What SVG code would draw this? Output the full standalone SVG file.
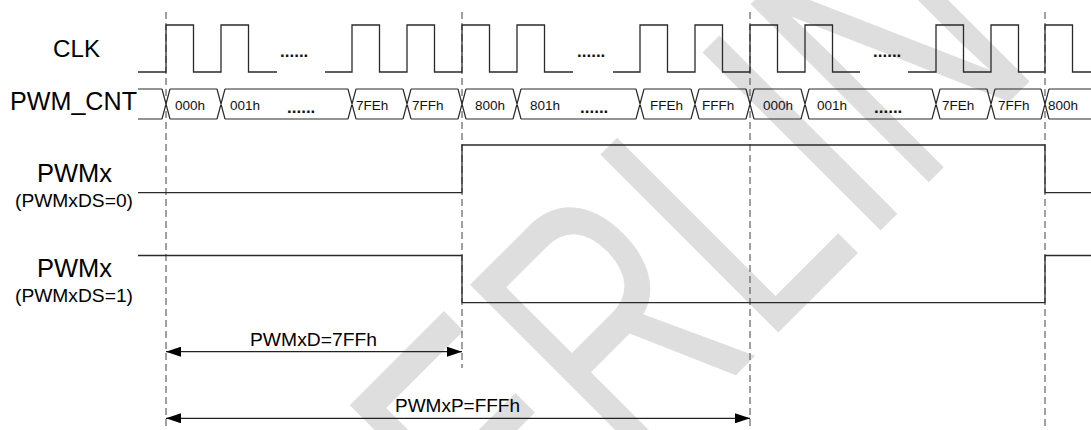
<svg xmlns="http://www.w3.org/2000/svg" width="1091" height="430" viewBox="0 0 1091 430">
<defs>
<style>
.wave{fill:none;stroke:#2a2a2a;stroke-width:1.3}
.bus{fill:none;stroke:#2a2a2a;stroke-width:1.2}
.dash{stroke:#555;stroke-width:1.1;stroke-dasharray:7 4;fill:none}
.lbl{font-family:"Liberation Sans",Arial,sans-serif;fill:#000}
.val{font-family:"Liberation Sans",Arial,sans-serif;font-size:13.5px;fill:#111}
.dots{font-family:"Liberation Sans",Arial,sans-serif;font-size:17px;font-weight:bold;fill:#111}
.dim{fill:none;stroke:#222;stroke-width:1.3;marker-start:url(#ah);marker-end:url(#ah)}
.wm{font-family:"Liberation Sans",Arial,sans-serif;fill:#dedede}
</style>
<marker id="ah" viewBox="0 0 15 10" refX="15" refY="5" markerWidth="15" markerHeight="10" markerUnits="userSpaceOnUse" orient="auto-start-reverse">
<path d="M0,0 L15,5 L0,10 Z" fill="#000"/>
</marker>
</defs>
<rect width="1091" height="430" fill="#fff"/>
<g id="watermark" transform="translate(513,598) rotate(-45) scale(0.697,1)">
<text class="wm" x="0" y="0" font-size="366">ERLIN</text>
</g>
<g id="guides">
<line class="dash" x1="166" y1="12" x2="166" y2="430"/>
<line class="dash" x1="462" y1="12" x2="462" y2="368"/>
<line class="dash" x1="750" y1="12" x2="750" y2="430"/>
<line class="dash" x1="1045" y1="12" x2="1045" y2="430"/>
</g>
<g id="clk">
<text class="lbl" x="53" y="57" font-size="24" textLength="47" lengthAdjust="spacingAndGlyphs">CLK</text>
<path class="wave" d="M138,72 H166 V25 H193.5 V72 H221 V25 H248.5 V72 H277 M325,72 H352 V25 H379.5 V72 H407 V25 H434.5 V72 H462 V25 H489.5 V72 H517 V25 H544.5 V72 H573 M613,72 H640 V25 H667.5 V72 H695 V25 H722.5 V72 H750 V25 H777.5 V72 H805 V25 H832.5 V72 H860 M908,72 H936 V25 H963.5 V72 H991 V25 H1018.5 V72 H1045 V25 H1072.5 V72 H1091"/>
<text class="dots" x="280" y="57">......</text>
<text class="dots" x="577" y="57">......</text>
<text class="dots" x="873" y="57">......</text>
</g>
<g id="pwm_cnt">
<text class="lbl" x="10" y="110" font-size="26" textLength="127" lengthAdjust="spacingAndGlyphs">PWM_CNT</text>
<path class="bus" d="M138,89 H162 M170,89 H217 M225,89 H348 M356,89 H403 M411,89 H458 M466,89 H513 M521,89 H636 M644,89 H691 M699,89 H746 M754,89 H801 M809,89 H932 M940,89 H987 M995,89 H1041 M1049,89 H1091 M138,119 H162 M170,119 H217 M225,119 H348 M356,119 H403 M411,119 H458 M466,119 H513 M521,119 H636 M644,119 H691 M699,119 H746 M754,119 H801 M809,119 H932 M940,119 H987 M995,119 H1041 M1049,119 H1091"/>
<path class="bus" d="M162,89 L170,119 M162,119 L170,89 M217,89 L225,119 M217,119 L225,89 M348,89 L356,119 M348,119 L356,89 M403,89 L411,119 M403,119 L411,89 M458,89 L466,119 M458,119 L466,89 M513,89 L521,119 M513,119 L521,89 M636,89 L644,119 M636,119 L644,89 M691,89 L699,119 M691,119 L699,89 M746,89 L754,119 M746,119 L754,89 M801,89 L809,119 M801,119 L809,89 M932,89 L940,119 M932,119 L940,89 M987,89 L995,119 M987,119 L995,89 M1041,89 L1049,119 M1041,119 L1049,89"/>
<text class="val" x="175" y="109.5">000h</text>
<text class="val" x="230" y="109.5">001h</text>
<text class="val" x="356" y="109.5">7FEh</text>
<text class="val" x="412" y="109.5">7FFh</text>
<text class="val" x="475" y="109.5">800h</text>
<text class="val" x="530" y="109.5">801h</text>
<text class="val" x="650" y="109.5">FFEh</text>
<text class="val" x="702" y="109.5">FFFh</text>
<text class="val" x="763" y="109.5">000h</text>
<text class="val" x="817" y="109.5">001h</text>
<text class="val" x="942" y="109.5">7FEh</text>
<text class="val" x="998" y="109.5">7FFh</text>
<text class="val" x="1048" y="109.5">800h</text>
<text class="dots" x="287" y="112.5">......</text>
<text class="dots" x="580" y="112.5">......</text>
<text class="dots" x="874" y="112.5">......</text>
</g>
<g id="pwmx_ds0">
<text class="lbl" x="37" y="182" font-size="25" textLength="75" lengthAdjust="spacingAndGlyphs">PWMx</text>
<text class="lbl" x="15" y="207" font-size="19" textLength="118" lengthAdjust="spacingAndGlyphs">(PWMxDS=0)</text>
<path class="wave" d="M138,192.7 H462 V145 H1045 V192.7 H1091"/>
</g>
<g id="pwmx_ds1">
<text class="lbl" x="37" y="277" font-size="25" textLength="75" lengthAdjust="spacingAndGlyphs">PWMx</text>
<text class="lbl" x="15" y="302" font-size="19" textLength="118" lengthAdjust="spacingAndGlyphs">(PWMxDS=1)</text>
<path class="wave" d="M138,255.5 H462 V302.7 H1045 V255.5 H1091"/>
</g>
<g id="connectors">
<line class="dim" x1="166" y1="351.7" x2="462" y2="351.7"/>
<line class="dim" x1="166" y1="418.3" x2="750" y2="418.3"/>
</g>
<g id="dim_labels">
<text class="lbl" x="250" y="346" font-size="19" textLength="127" lengthAdjust="spacingAndGlyphs">PWMxD=7FFh</text>
<text class="lbl" x="395" y="412" font-size="19" textLength="125" lengthAdjust="spacingAndGlyphs">PWMxP=FFFh</text>
</g>
</svg>
